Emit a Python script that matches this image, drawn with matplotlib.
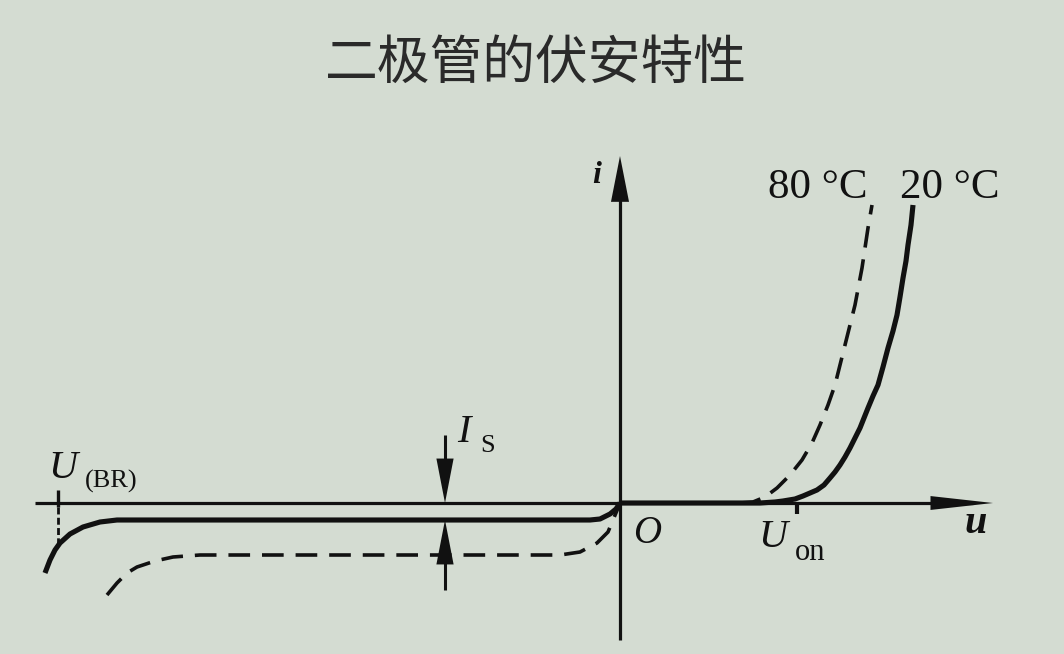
import matplotlib
matplotlib.use("Agg")
import matplotlib.pyplot as plt

# ---- data (schematic units: u to the right of origin, i upward) ----
# 20 °C forward branch (solid)
fwd20_u = [0, 140, 155, 163, 175, 183, 190, 197, 204, 210, 215, 220, 225, 230,
           235, 240, 244, 248, 253, 258, 263, 268, 273, 277, 280, 283, 286,
           288, 291, 293]
fwd20_i = [0, 0, 1, 2, 4, 7, 10, 13, 18, 25, 31, 38, 46, 55,
           65, 75, 85, 95, 107, 118, 136, 155, 172, 188, 206, 225, 242,
           258, 278, 298]
# 20 °C reverse branch (solid)
rev20_u = [-575, -570, -565, -560, -550, -537, -520, -503, -30, -20, -10, -4, 0]
rev20_i = [-70, -57, -47, -40, -31, -24, -19, -17, -17, -16, -11, -6, 0]
# 80 °C full characteristic (dashed)
c80_u = [-513, -503, -493, -483, -465, -447, -420, -60, -40, -23, -12, -7, -2, 0,
         120, 133, 145, 157, 170, 182, 192, 200, 208, 215, 220, 225, 230, 235,
         242, 248, 252]
c80_i = [-92, -80, -70, -64, -58, -54, -52, -52, -49, -40, -29, -17, -5, 0,
         0, 1, 6, 15, 28, 43, 60, 78, 98, 118, 138, 158, 178, 198,
         235, 275, 298]

# axes extents and markers
u_axis = [-585, 373]
i_axis = [-137, 347]
u_br = -562
u_on = 177
u_is = -175
is_top = [68, 0]
is_bot = [-87, -17]

title = "二极管的伏安特性"
temp_labels = ["80 \u00b0C", "20 \u00b0C"]

bg = "#d4dcd2"
ink = "#111111"

fig = plt.figure(figsize=(10.64, 6.54), dpi=100, facecolor=bg)
ax = fig.add_axes([0, 0, 1, 1])
ax.set_facecolor(bg)
ax.set_xlim(-620, 444)
ax.set_ylim(-151, 503)
ax.axis("off")


def head(tip, tail, length, width):
    ax.annotate("", xy=tip, xytext=tail,
                arrowprops=dict(arrowstyle=f"-|>,head_length={length},head_width={width}",
                                mutation_scale=10, lw=0, color=ink,
                                shrinkA=0, shrinkB=0))


# axes with arrows
ax.plot([u_axis[0], u_axis[1] - 20], [0, 0], color=ink, lw=2.3,
        solid_capstyle="butt")
head((u_axis[1], 0), (u_axis[0], 0), 4.5, 0.5)
ax.plot([0, 0], [i_axis[0], i_axis[1] - 20], color=ink, lw=2.3,
        solid_capstyle="butt")
head((0, i_axis[1]), (0, i_axis[0]), 3.3, 0.65)

# curves
ax.plot(c80_u, c80_i, color=ink, lw=2.6, ls=(0, (6.0, 3.3)),
        solid_capstyle="butt", dash_capstyle="butt")
ax.plot(rev20_u, rev20_i, color=ink, lw=3.7, solid_capstyle="butt",
        solid_joinstyle="round")
ax.plot(fwd20_u, fwd20_i, color=ink, lw=3.7, solid_capstyle="butt",
        solid_joinstyle="round")

# breakdown marker
ax.plot([u_br, u_br], [13, -4], color=ink, lw=2.4, solid_capstyle="butt")
ax.plot([u_br, u_br], [-4, -45], color=ink, lw=2.0, ls=(0, (2.5, 1.2)))
# Uon tick
ax.plot([u_on, u_on], [0, -11], color=ink, lw=3.0, solid_capstyle="butt")

# Is arrows
for tail, tip in ((is_top[0], is_top[1]), (is_bot[0], is_bot[1])):
    ax.plot([u_is, u_is], [tail, (tail + tip) / 2], color=ink, lw=2.2,
            solid_capstyle="butt")
    head((u_is, tip), (u_is, tail), 3.2, 0.62)

serif = "Liberation Serif"
# labels
ax.text(-572, 25, "U", family=serif, style="italic", fontsize=29, color=ink,
        ha="left", va="baseline")
ax.text(-535, 15, "(BR)", family=serif, fontsize=19, color=ink,
        ha="left", va="baseline")
ax.text(-163, 61, "I", family=serif, style="italic", fontsize=29, color=ink,
        ha="left", va="baseline")
ax.text(-140, 51, "S", family=serif, fontsize=19, color=ink,
        ha="left", va="baseline")
ax.text(13, -40, "O", family=serif, style="italic", fontsize=28, color=ink,
        ha="left", va="baseline")
ax.text(138, -44, "U", family=serif, style="italic", fontsize=29, color=ink,
        ha="left", va="baseline")
ax.text(175, -57, "on", family=serif, fontsize=22, color=ink,
        ha="left", va="baseline")
ax.text(345, -30, "u", family=serif, style="italic", weight="bold",
        fontsize=29, color=ink, ha="left", va="baseline")
ax.text(-28, 320, "i", family=serif, style="italic", weight="bold",
        fontsize=23, color=ink, ha="left", va="baseline")
ax.text(148, 305, temp_labels[0], family=serif, fontsize=31, color=ink,
        ha="left", va="baseline")
ax.text(280, 305, temp_labels[1], family=serif, fontsize=31, color=ink,
        ha="left", va="baseline")

# title
ax.text(-84, 440, title, family=["Noto Sans CJK SC", "DejaVu Sans"],
        weight="light", fontsize=38, color="#2a2a2a", ha="center", va="center")

fig.savefig("out.png", dpi=100, facecolor=bg)
